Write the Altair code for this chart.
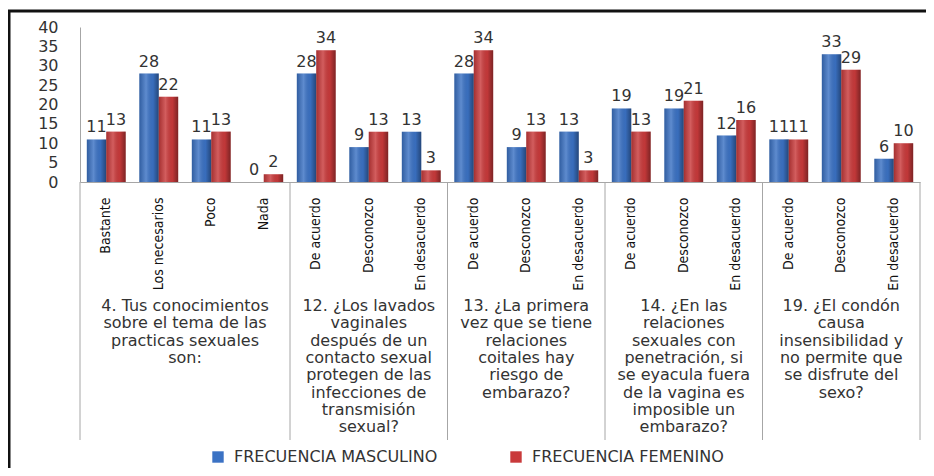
import altair as alt
import pandas as pd

# ---------------- data ----------------
groups = [
    "4. Tus conocimientos\nsobre el tema de las\npracticas sexuales\nson:",
    "12. ¿Los lavados\nvaginales\ndespués de un\ncontacto sexual\nprotegen de las\ninfecciones de\ntransmisión\nsexual?",
    "13. ¿La primera\nvez que se tiene\nrelaciones\ncoitales hay\nriesgo de\nembarazo?",
    "14. ¿En las\nrelaciones\nsexuales con\npenetración, si\nse eyacula fuera\nde la vagina es\nimposible un\nembarazo?",
    "19. ¿El condón\ncausa\ninsensibilidad y\nno permite que\nse disfrute del\nsexo?",
]
categories = [
    ["Bastante", "Los necesarios", "Poco", "Nada"],
    ["De acuerdo", "Desconozco", "En desacuerdo"],
    ["De acuerdo", "Desconozco", "En desacuerdo"],
    ["De acuerdo", "Desconozco", "En desacuerdo"],
    ["De acuerdo", "Desconozco", "En desacuerdo"],
]
masculino = [11, 28, 11, 0, 28, 9, 13, 28, 9, 13, 19, 19, 12, 11, 33, 6]
femenino = [13, 22, 13, 2, 34, 13, 3, 34, 13, 3, 13, 21, 16, 11, 29, 10]
series = ["FRECUENCIA MASCULINO", "FRECUENCIA FEMENINO"]
colors = ["#3b72c4", "#c93a3b"]
y_ticks = [0, 5, 10, 15, 20, 25, 30, 35, 40]

# ---------------- tables ----------------
keys, rows = [], []
i = 0
for g, cats in enumerate(categories):
    for c in cats:
        k = f"{i:02d}|{c}"
        keys.append(k)
        rows.append({"key": k, "serie": series[0], "valor": masculino[i]})
        rows.append({"key": k, "serie": series[1], "valor": femenino[i]})
        i += 1
bars_df = pd.DataFrame(rows)

bounds = [0]
for cats in categories:
    bounds.append(bounds[-1] + len(cats))
total = bounds[-1]
grp_df = pd.DataFrame({
    "texto": groups,
    "centro": [(bounds[j] + bounds[j + 1]) / 2 for j in range(len(groups))],
})
sep_df = pd.DataFrame({"pos": bounds})

FONT = "DejaVu Sans"
NARROW = "'Liberation Sans Narrow', 'DejaVu Sans Condensed', sans-serif"
H = 155
W = 840

x_enc = alt.X(
    "key:N",
    sort=keys,
    scale=alt.Scale(paddingInner=0.26, paddingOuter=0.13),
    axis=alt.Axis(
        title=None, labelAngle=-90, labelExpr="split(datum.label, '|')[1]",
        labelFont=NARROW, labelFontSize=14, labelColor="#111",
        labelPadding=15, ticks=False, domainColor="#a6a6a6", labelLimit=200,
    ),
)
y_enc = alt.Y(
    "valor:Q",
    scale=alt.Scale(domain=[0, 40], nice=False),
    axis=alt.Axis(
        title=None, values=y_ticks, grid=False, ticks=False,
        labelFont=FONT, labelFontSize=16, labelColor="#333",
        labelPadding=22, domainColor="#a6a6a6",
    ),
)
xoff = alt.XOffset("serie:N", sort=series, scale=alt.Scale(paddingInner=0))

base = alt.Chart(bars_df)
bars = base.mark_bar().encode(
    x=x_enc, y=y_enc, xOffset=xoff,
    color=alt.Color(
        "serie:N", sort=series,
        scale=alt.Scale(domain=series, range=colors),
        legend=alt.Legend(
            orient="none", legendX=130, legendY=422, direction="horizontal",
            title=None, symbolType="square", symbolSize=130, symbolStrokeWidth=0,
            labelFont=FONT, labelFontSize=16, labelColor="#333",
            labelLimit=500, columnPadding=70, labelOffset=8,
        ),
    ),
)
shade = base.mark_bar(
    color=alt.LinearGradient(
        gradient="linear", x1=0, x2=1, y1=0, y2=0,
        stops=[
            alt.GradientStop(color="rgba(0,0,0,0.18)", offset=0),
            alt.GradientStop(color="rgba(255,255,255,0.18)", offset=0.35),
            alt.GradientStop(color="rgba(0,0,0,0.04)", offset=0.7),
            alt.GradientStop(color="rgba(0,0,0,0.38)", offset=1),
        ],
    )
).encode(x=x_enc, y=y_enc, xOffset=xoff)
labels = base.mark_text(
    baseline="bottom", dy=-4, font=FONT, fontSize=16, color="#333"
).encode(x=x_enc, y=y_enc, xOffset=xoff, text="valor:Q")

bar_layer = alt.layer(bars, shade, labels)

qscale = alt.Scale(domain=[0, total], nice=False, zero=False)
seps = alt.Chart(sep_df).mark_rule(color="#a6a6a6", strokeWidth=1).encode(
    x=alt.X("pos:Q", scale=qscale, axis=None),
    y=alt.value(H), y2=alt.value(H + 258),
)
grp_text = alt.Chart(grp_df).mark_text(
    lineBreak="\n", baseline="top", align="center", font=FONT,
    fontSize=16, lineHeight=17.3, color="#333",
).encode(
    x=alt.X("centro:Q", scale=qscale, axis=None),
    y=alt.value(271),
    text="texto:N",
)
frame = alt.Chart(pd.DataFrame({"a": [0]})).mark_rect(
    filled=False, stroke="#111", strokeWidth=3
).encode(
    x=alt.value(-71), x2=alt.value(W + 80), y=alt.value(-16), y2=alt.value(H + 400)
)

chart = alt.layer(bar_layer, seps, grp_text, frame).resolve_scale(
    x="independent"
).properties(
    width=W, height=H,
    autosize=alt.AutoSizeParams(type="none"),
    padding={"left": 72, "top": 19, "right": 6, "bottom": 286},
).configure_view(strokeWidth=0)

chart.save("out.html", embed_options={"renderer": "svg", "actions": False})
